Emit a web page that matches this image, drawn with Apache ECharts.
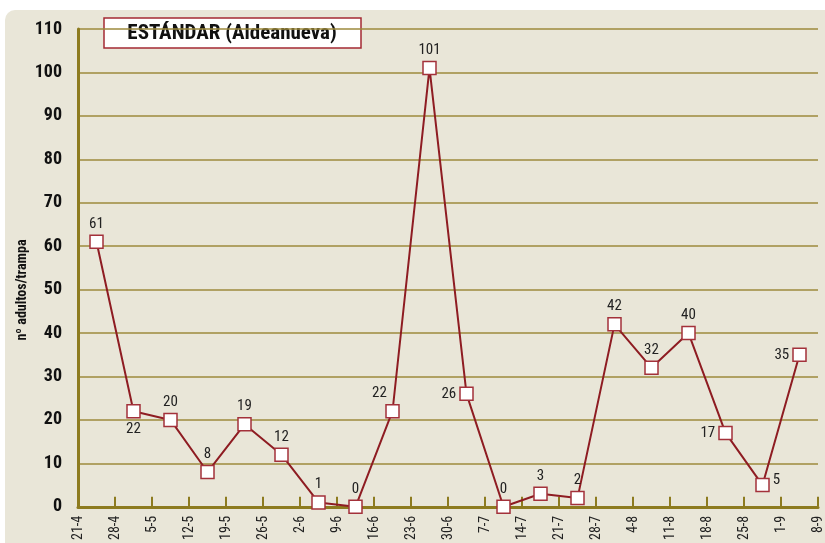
<!DOCTYPE html>
<html>
<head>
<meta charset="utf-8">
<script src="https://cdn.jsdelivr.net/npm/echarts@6/dist/echarts.min.js"></script>
<style>
  html, body { margin: 0; padding: 0; background: #fff; }
  #chart { width: 825px; height: 543px; }
</style>
</head>
<body>
<div id="chart"></div>
<script>
// fechas de muestreo (marcas del eje x)
const fechas = ["21-4", "28-4", "5-5", "12-5", "19-5", "26-5", "2-6", "9-6", "16-6", "23-6", "30-6",
  "7-7", "14-7", "21-7", "28-7", "4-8", "11-8", "18-8", "25-8", "1-9", "8-9"];
// nº adultos por trampa, uno por semana (entre dos fechas)
const adultos = [61, 22, 20, 8, 19, 12, 1, 0, 22, 101, 26, 0, 3, 2, 42, 32, 40, 17, 5, 35];
const yTicks = { min: 0, max: 110, interval: 10 };

const oliva = "#8d7b1f";
const granate = "#8e1c22";
const fuente = "'Roboto Condensed', 'DejaVu Sans Condensed', sans-serif";

// colocacion de etiquetas que no van encima
const posEtiqueta = { 1: "bottom", 10: "left", 17: "left", 18: "right", 19: "left" };

let chart = echarts.init(document.getElementById("chart"));

const puntos = adultos.map((v, i) => {
  let p = { value: [i + 0.5, v] };
  if (posEtiqueta[i]) p.label = { position: posEtiqueta[i] };
  if (i === 8) p.label = { position: "top", offset: [-13, 0] };
  if (i === 18) p.label.offset = [0, -5];
  return p;
});

let option = {
  backgroundColor: "#fff",
  animation: false,
  graphic: [
    {
      type: "rect",
      z: -10,
      shape: { x: 5, y: 10, width: 840, height: 545, r: 10 },
      style: { fill: "#e9e6d8" },
    },
    {
      // titulo del eje y
      type: "text",
      x: 22,
      y: 290,
      rotation: Math.PI / 2,
      style: {
        text: "nº adultos/trampa",
        fill: "#111",
        font: "bold 14px " + fuente,
        align: "center",
        verticalAlign: "middle",
      },
    },
    {
      type: "group",
      z: 100,
      children: [
        {
          type: "rect",
          shape: { x: 104, y: 18, width: 257, height: 30 },
          style: { fill: "#fff", stroke: "#a42a33", lineWidth: 1.5 },
        },
        {
          type: "text",
          x: 232,
          y: 34,
          style: {
            text: "ESTÁNDAR (Aldeanueva)",
            fill: "#111",
            font: "bold 21px " + fuente,
            align: "center",
            verticalAlign: "middle",
          },
        },
      ],
    },
  ],
  grid: { left: 78, right: 3, top: 29, bottom: 35 },
  xAxis: {
    type: "value",
    min: 0,
    max: fechas.length - 1,
    interval: 1,
    axisLine: { show: true, lineStyle: { color: oliva, width: 3 } },
    axisTick: { show: true, inside: true, length: 10, lineStyle: { color: oliva, width: 2 } },
    splitLine: { show: false },
    axisLabel: {
      rotate: 90,
      margin: 9,
      color: "#222",
      fontSize: 14,
      fontFamily: fuente,
      formatter: (v) => fechas[v] || "",
    },
  },
  yAxis: {
    type: "value",
    min: yTicks.min,
    max: yTicks.max,
    interval: yTicks.interval,
    axisLine: { show: true, lineStyle: { color: oliva, width: 3 } },
    axisTick: { show: false },
    splitLine: { lineStyle: { color: "#9c8a3c", width: 1.5 } },
    axisLabel: { color: "#111", fontSize: 18, fontWeight: "bold", fontFamily: fuente, margin: 16 },
  },
  series: [
    {
      type: "line",
      data: puntos,
      symbol: "rect",
      symbolSize: 13,
      lineStyle: { color: granate, width: 2 },
      itemStyle: { color: "#fff", borderColor: "#a3313a", borderWidth: 1.5 },
      label: {
        show: true,
        position: "top",
        distance: 3,
        color: "#222",
        fontSize: 15,
        fontFamily: fuente,
        formatter: (p) => p.value[1],
      },
      z: 5,
    },
  ],
};
chart.setOption(option);
</script>
</body>
</html>
